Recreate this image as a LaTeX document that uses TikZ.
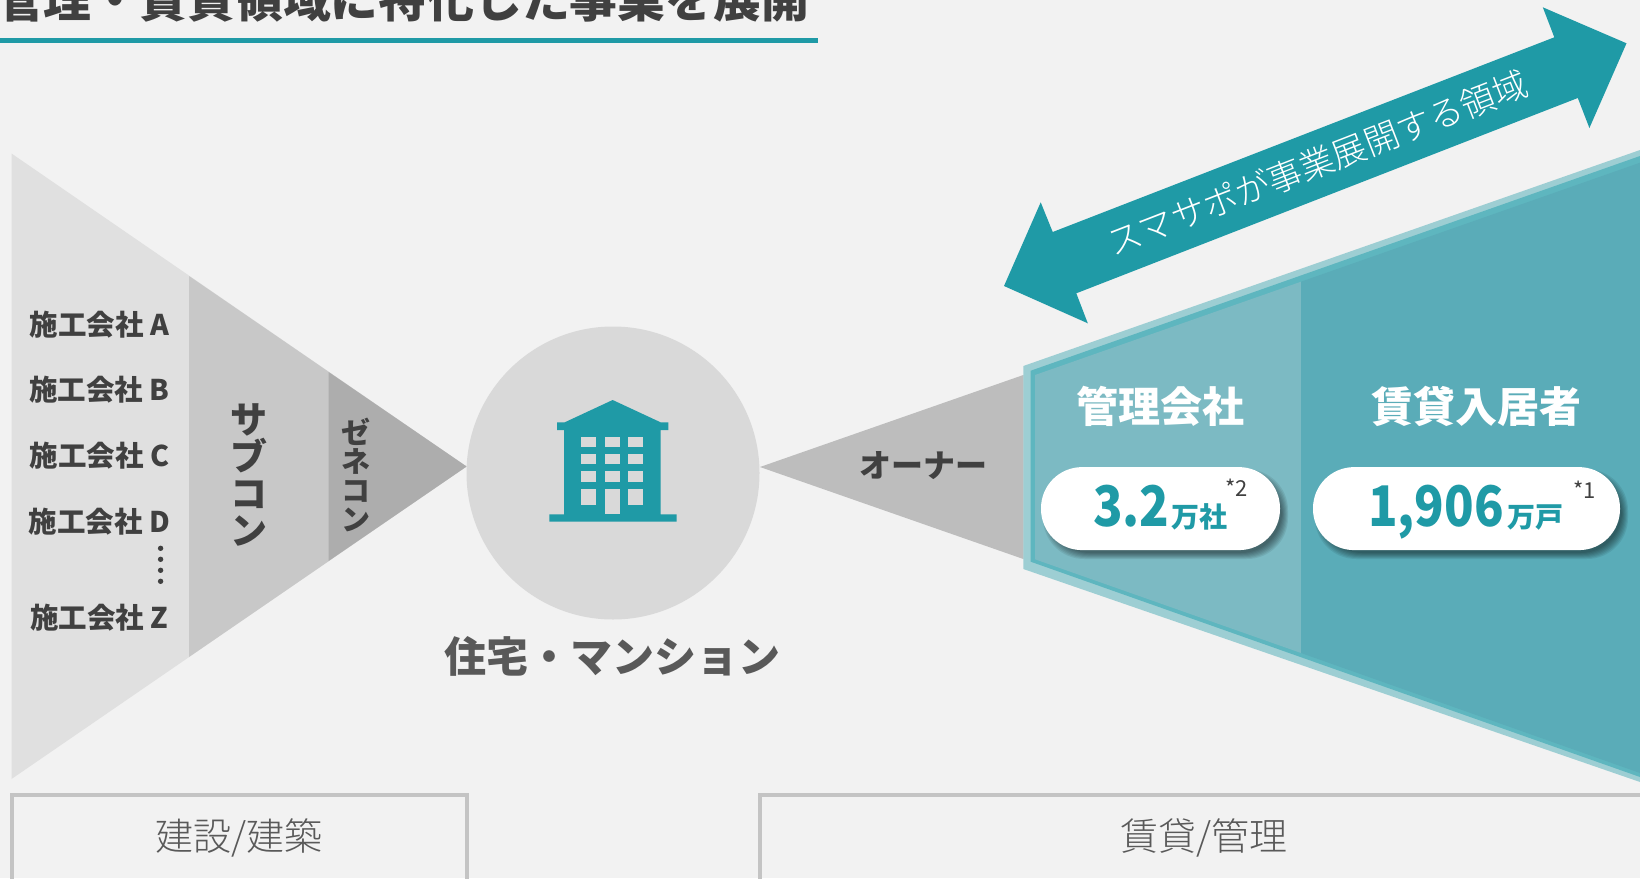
\documentclass[tikz,border=0pt]{standalone}
\usepackage{graphicx}
\usepackage{fontspec}
\setmainfont{Noto Sans CJK JP}
\newfontfamily\lightf{Noto Sans CJK JP Light}
\definecolor{bg}{HTML}{F2F2F2}
\definecolor{teal1}{HTML}{1F9AA6}
\definecolor{txt}{HTML}{404040}
\definecolor{txtb}{HTML}{595959}
\newcommand{\fs}[1]{\fontsize{#1}{#1}\selectfont}
\newcommand{\cond}[1]{\scalebox{.87}[1]{#1}}
\tikzset{
  lab/.style={inner sep=0pt,outer sep=0pt,text=txt,font=\fs{28.5}\bfseries},
  vlab/.style={inner sep=0pt,outer sep=0pt,text=txt,align=center},
  pill/.style={fill=white,rounded corners=41pt,inner sep=0pt,minimum height=83pt},
  box/.style={draw=#1,line width=4pt},
  win/.style={fill=black!15,draw=none}
}
\begin{document}
\begin{tikzpicture}[x=1pt,y=-1pt]
\useasboundingbox (0,0) rectangle (1640,878);
\clip (0,0) rectangle (1640,878);
\fill[bg] (0,0) rectangle (1640,878);
% title
\node[anchor=base west,inner sep=0pt,text=txt,font=\fs{47.8}\bfseries] (title) at (-4,17) {管理・賃貸領域に特化した事業を展開};
\fill[teal1] (0,38) rectangle (817.5,42.5);
% left triangles
\fill[black!12] (11.5,153.5) -- (466.5,466.5) -- (11.5,779) -- cycle;
\fill[black!21.5] (189,276) -- (466.5,466.5) -- (189,657) -- cycle;
\fill[black!32] (328.5,372) -- (466.5,466.5) -- (328.5,561) -- cycle;
% labels
\node[lab,anchor=center] (a) at (99.4,325) {施工会社 A};
\node[lab,anchor=center] (b) at (99.4,390) {施工会社 B};
\node[lab,anchor=center] (c) at (99.4,456) {施工会社 C};
\node[lab,anchor=center] (d) at (99.4,522) {施工会社 D};
\node[lab,anchor=center] (z) at (99.4,618) {施工会社 Z};
\foreach \yy in {548.3,559.3,570.3,581.3} \fill[txt] (160.6,\yy) circle (2.7);
\node[vlab,font=\fs{37}\bfseries,text=txt] (sub) at (248.5,475) {サ\\ブ\\コ\\ン};
\node[vlab,font=\fs{29}\bfseries] (gen) at (355.6,475) {ゼ\\ネ\\コ\\ン};
% circle and building
\node[circle,fill=black!15,minimum size=293pt,inner sep=0pt] (house) at (613,473) {};
\begin{scope}[shift={(530,385)},x=0.3333pt,y=-0.3333pt]
\fill[teal1] (248,45) -- (392,112) -- (415,112) -- (415,135) -- (392,135) -- (392,388) -- (440,388) -- (440,410) -- (58,410) -- (58,388) -- (102,388) -- (102,135) -- (81,135) -- (81,112) -- (104,112) -- cycle;
\foreach \xa/\xb in {152/198,225/269,295/339}
 \foreach \ya/\yb in {156/185,206/238,259/291}
  \fill[win] (\xa,\ya) rectangle (\xb,\yb);
\fill[win] (152,313) rectangle (198,359);
\fill[win] (295,313) rectangle (339,359);
\fill[win] (225,313) rectangle (269,388);
\end{scope}
\node[inner sep=0pt,text=txtb,font=\fs{42}\bfseries] (res) at (612,656) {住宅・マンション};
% right gray triangle
\fill[black!26] (760,467) -- (1023.3,375) -- (1023.3,559) -- cycle;
% teal funnel
\fill[teal1,opacity=.4] (1023.3,366) -- (1640,150) -- (1640,782) -- (1023.3,569) -- cycle;
\fill[color=teal1!72!white] (1030.7,370.7) -- (1640,156) -- (1640,777) -- (1030.7,561.7) -- cycle;
\fill[color={rgb,255:red,124;green,186;blue,195}] (1035,375) -- (1301,281.7) -- (1301,653) -- (1035,559.3) -- cycle;
\fill[color={rgb,255:red,90;green,172;blue,184}] (1301,281.7) -- (1640,162.7) -- (1640,773) -- (1301,653) -- cycle;
\node[lab,font=\fs{32}\bfseries] (own) at (923,465.7) {オーナー};
\node[inner sep=0pt,text=white,font=\fs{42}\bfseries] (mg) at (1160,406.7) {管理会社};
\node[inner sep=0pt,text=white,font=\fs{42}\bfseries] (rn) at (1476.5,406.7) {賃貸入居者};
% pills
\foreach \i in {0,...,6}{
  \fill[black,opacity=.08,rounded corners=41pt] ({1041+2+\i},{467.3+2+\i}) rectangle ({1280+8-\i},{550+9-\i});
  \fill[black,opacity=.08,rounded corners=41pt] ({1313+2+\i},{467.3+2+\i}) rectangle ({1620+8-\i},{550+9-\i});
}
\node[pill,minimum width=239pt] (p1) at (1160.5,508.6) {};
\node[pill,minimum width=307pt] (p2) at (1466.5,508.6) {};
\node[anchor=base west,inner sep=0pt,text=teal1,font=\fs{56}\bfseries] (v1) at (1093,526.7) {\cond{3.2}};
\node[anchor=base west,inner sep=0pt,text=teal1,font=\fs{28}\bfseries] (u1) at (1171,527.5) {万社};
\node[anchor=base west,inner sep=0pt,text=txt,font=\fs{22}] (n1) at (1225,496) {*2};
\node[anchor=base west,inner sep=0pt,text=teal1,font=\fs{56}\bfseries] (v2) at (1368,526.7) {\cond{1,906}};
\node[anchor=base west,inner sep=0pt,text=teal1,font=\fs{28}\bfseries] (u2) at (1507,527.5) {万戸};
\node[anchor=base west,inner sep=0pt,text=txt,font=\fs{22}] (n2) at (1573,498) {*1};
% double arrow
\fill[teal1] (1626.5,43.3) -- (1542.8,7.3) -- (1554.3,37.3) -- (1052.7,232) -- (1040.7,202.3) -- (1004,286) -- (1087.8,323.3) -- (1076.3,293.3) -- (1577.8,98) -- (1589.4,128) -- cycle;
\node[inner sep=0pt,text=white,rotate=21.2,font=\fs{34.5}\lightf] (arr) at (1317.6,163) {スマサポが事業展開する領域};
% bottom boxes
\draw[box=black!23] (11.5,900) -- (11.5,795.3) -- (467,795.3) -- (467,900);
\draw[box=black!23] (760,900) -- (760,795.3) -- (1660,795.3);
\node[inner sep=0pt,text=txtb,font=\fs{38}\lightf] (bl) at (239,838) {建設/建築};
\node[inner sep=0pt,text=txtb,font=\fs{38}\lightf] (br) at (1204,838) {賃貸/管理};
\end{tikzpicture}
\end{document}
